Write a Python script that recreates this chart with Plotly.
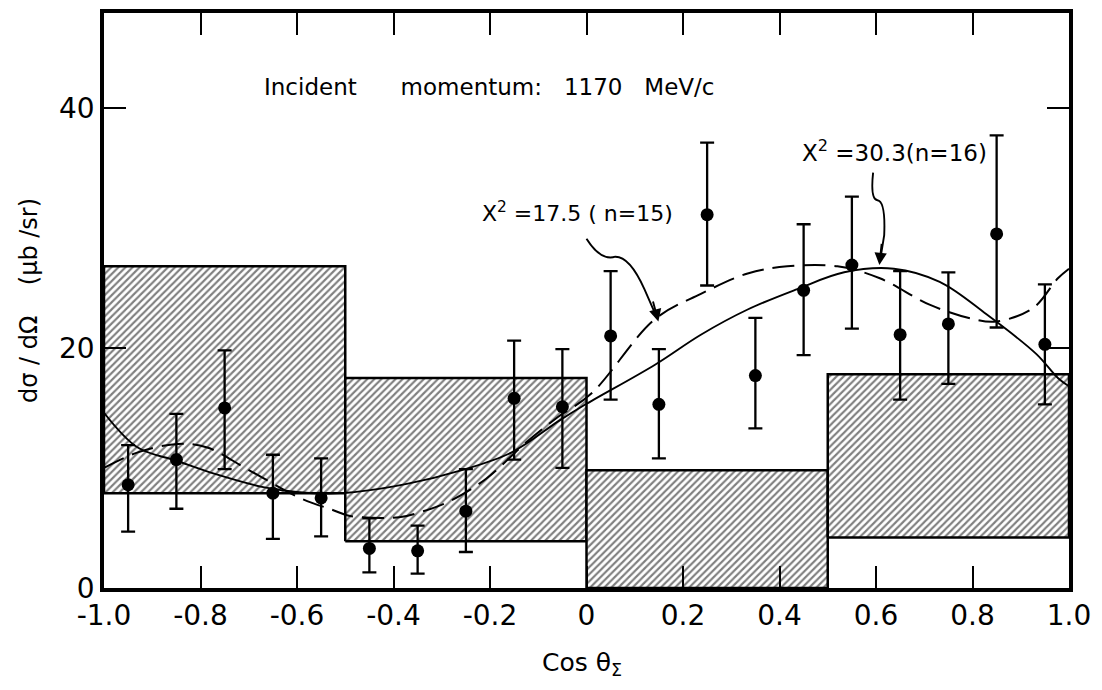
import plotly.graph_objects as go

# ---- data ----
cos_theta = [-0.95, -0.85, -0.75, -0.65, -0.55, -0.45, -0.35, -0.25, -0.15, -0.05,
             0.05, 0.15, 0.25, 0.35, 0.45, 0.55, 0.65, 0.75, 0.85, 0.95]
dsigma = [8.6, 10.7, 15.0, 7.9, 7.5, 3.3, 3.1, 6.4, 15.8, 15.1,
          21.0, 15.3, 31.1, 17.7, 24.8, 26.9, 21.1, 22.0, 29.5, 20.3]
err_plus = [3.3, 3.8, 4.8, 3.2, 3.3, 2.5, 2.1, 3.5, 4.8, 4.8,
            5.4, 4.6, 6.0, 4.8, 5.5, 5.7, 5.3, 4.3, 8.2, 5.0]
err_minus = [3.9, 4.1, 5.1, 3.8, 3.2, 2.0, 1.9, 3.4, 5.1, 5.1,
             5.3, 4.5, 5.9, 4.4, 5.4, 5.3, 5.4, 5.0, 7.8, 5.0]

box_edges = [-1.0, -0.5, 0.0, 0.5, 1.0]
box_low = [7.9, 3.9, 0.0, 4.2]
box_high = [26.8, 17.5, 9.8, 17.8]

fit16_x = [-1.0, -0.93, -0.85, -0.77, -0.67, -0.6, -0.51, -0.37, -0.26, -0.155, -0.058,
           -0.006, 0.142, 0.237, 0.334, 0.437, 0.534, 0.637, 0.732, 0.829, 0.932, 0.977, 1.0]
fit16_y = [14.6, 11.7, 10.6, 9.5, 8.4, 8.0, 7.9, 8.7, 9.8, 11.3, 13.9,
           15.2, 18.6, 21.1, 23.2, 24.9, 26.3, 26.6, 25.5, 22.8, 19.5, 17.5, 16.8]

fit15_x = [-1.0, -0.93, -0.847, -0.786, -0.703, -0.594, -0.526, -0.49, -0.388, -0.346,
           -0.285, -0.208, -0.126, -0.064, 0.01, 0.142, 0.237, 0.334, 0.416, 0.52,
           0.608, 0.711, 0.802, 0.849, 0.925, 0.977, 1.0]
fit15_y = [10.0, 11.3, 12.0, 11.7, 9.9, 7.5, 6.5, 6.0, 5.9, 6.3,
           7.2, 9.1, 12.1, 14.1, 16.2, 22.4, 24.5, 26.2, 26.8, 26.8,
           25.8, 23.6, 22.4, 22.2, 23.3, 25.8, 26.6]

x_ticks = [-1.0, -0.8, -0.6, -0.4, -0.2, 0.0, 0.2, 0.4, 0.6, 0.8, 1.0]
x_ticktext = ["-1.0", "-0.8", "-0.6", "-0.4", "-0.2", "0", "0.2", "0.4", "0.6", "0.8", "1.0"]
y_ticks = [0, 20, 40]
y_ticktext = ["0", "20", "40"]

FONT = "DejaVu Sans"
SP = "&nbsp;"

fig = go.Figure()

# hatched boxes
for i in range(len(box_low)):
    x0, x1 = box_edges[i], box_edges[i + 1]
    lo, hi = box_low[i], box_high[i]
    fig.add_trace(go.Scatter(
        x=[x0, x1, x1, x0, x0], y=[lo, lo, hi, hi, lo],
        mode="lines", fill="toself",
        line=dict(color="black", width=2.5),
        fillcolor="white",
        fillpattern=dict(shape="/", fgcolor="black", bgcolor="white",
                         size=5, solidity=0.42),
        hoverinfo="skip", showlegend=False))

# fit curves
fig.add_trace(go.Scatter(x=fit16_x, y=fit16_y, mode="lines", line_shape="spline",
                         line=dict(color="black", width=1.9), showlegend=False))
fig.add_trace(go.Scatter(x=fit15_x, y=fit15_y, mode="lines", line_shape="spline",
                         line=dict(color="black", width=2, dash="22px,9px"),
                         showlegend=False))

# data points
fig.add_trace(go.Scatter(
    x=cos_theta, y=dsigma, mode="markers",
    marker=dict(color="black", size=13),
    error_y=dict(type="data", symmetric=False, array=err_plus, arrayminus=err_minus,
                 color="black", thickness=2.3, width=7),
    showlegend=False))

# curved pointer lines
fig.add_shape(type="path",
              path="M 0.0,29.1 Q 0.03,27.2 0.06,27.6 Q 0.09,27.6 0.12,24.9 L 0.145,22.6",
              line=dict(color="black", width=1.9), xref="x", yref="y")
fig.add_shape(type="path",
              path="M 0.594,34.6 Q 0.588,32.4 0.603,32.3 Q 0.62,32.2 0.617,29.4 L 0.609,27.4",
              line=dict(color="black", width=1.9), xref="x", yref="y")

# arrow heads
fig.add_annotation(x=0.149, y=22.2, ax=0.137, ay=24.0, xref="x", yref="y",
                   axref="x", ayref="y", text="", showarrow=True,
                   arrowhead=2, arrowsize=1.3, arrowwidth=1.9, arrowcolor="black")
fig.add_annotation(x=0.607, y=26.9, ax=0.612, ay=28.8, xref="x", yref="y",
                   axref="x", ayref="y", text="", showarrow=True,
                   arrowhead=2, arrowsize=1.3, arrowwidth=1.9, arrowcolor="black")

# texts
fig.add_annotation(x=-0.672, y=41.7, xref="x", yref="y", xanchor="left", yanchor="middle",
                   text="Incident" + SP * 6 + "momentum:" + SP * 3 + "1170" + SP * 3 + "MeV/c",
                   showarrow=False, font=dict(family=FONT, size=23, color="black"))
fig.add_annotation(x=-0.22, y=31.3, xref="x", yref="y", xanchor="left", yanchor="middle",
                   text="X<sup>2</sup> =17.5 ( n=15)",
                   showarrow=False, font=dict(family=FONT, size=22, color="black"))
fig.add_annotation(x=0.443, y=36.4, xref="x", yref="y", xanchor="left", yanchor="middle",
                   text="X<sup>2</sup> =30.3(n=16)",
                   showarrow=False, font=dict(family=FONT, size=23, color="black"))

# x-axis title
fig.add_annotation(x=-0.01, y=-0.132, xref="x", yref="paper", xanchor="center",
                   yanchor="middle", text="Cos" + SP + "θ<sub>Σ</sub>", showarrow=False,
                   font=dict(family=FONT, size=25, color="black"))

fig.update_layout(
    width=1102, height=690,
    margin=dict(l=104, r=33, t=9, b=102),
    paper_bgcolor="white", plot_bgcolor="white",
    font=dict(family=FONT, color="black"),
    xaxis=dict(range=[-1.0, 1.0], tickvals=x_ticks, ticktext=x_ticktext,
               ticks="inside", ticklen=22, tickwidth=2, tickcolor="black",
               showline=True, linewidth=3.5, linecolor="black", mirror="ticks",
               showgrid=False, zeroline=False,
               tickfont=dict(family=FONT, size=28, color="black")),
    yaxis=dict(range=[0, 47.9], tickvals=y_ticks, ticktext=y_ticktext,
               ticks="inside", ticklen=22, tickwidth=2, tickcolor="black",
               showline=True, linewidth=3.5, linecolor="black", mirror="ticks",
               showgrid=False, zeroline=False,
               tickfont=dict(family=FONT, size=28, color="black"),
               title=dict(text="dσ / dΩ" + SP * 4 + "(μb /sr)", standoff=16,
                          font=dict(family=FONT, size=24, color="black"))),
)

fig.write_html("out.html")
